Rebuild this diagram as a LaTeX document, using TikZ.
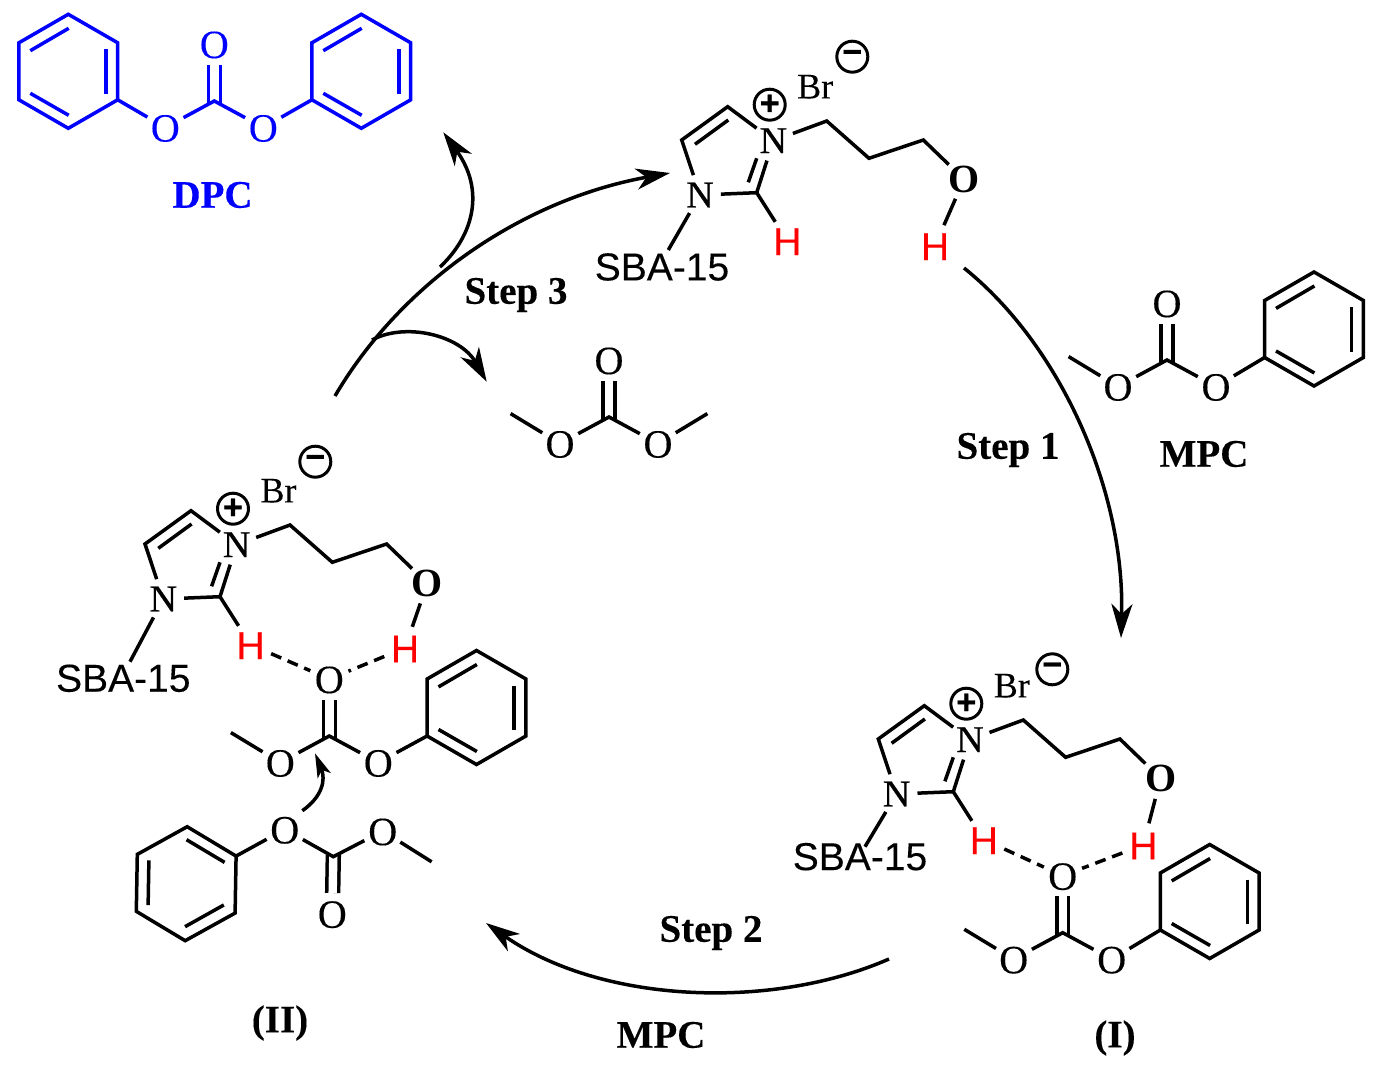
\documentclass[tikz,border=0pt]{standalone}
\usepackage{fontspec}
\setmainfont{Liberation Serif}
\setsansfont{Liberation Sans}
\usetikzlibrary{arrows.meta}

\tikzset{
  bond/.style={line width=1.75pt},
  atomO/.style={circle,inner sep=0pt,minimum size=19.5pt,text height=14.2pt,
    font=\fontsize{20}{20}\selectfont\addfontfeature{FakeBold=0.25}},
  atomOb/.style={atomO,text height=13.8pt,font=\fontsize{20}{20}\selectfont\bfseries},
  atomN/.style={circle,inner sep=0pt,minimum size=20.5pt,
    font=\fontsize{19}{19}\selectfont\addfontfeature{FakeBold=0.5}},
  atomH/.style={circle,inner sep=0pt,minimum size=22pt,text=red,text height=14.4pt,
    font=\fontsize{19.5}{19.5}\selectfont\sffamily\addfontfeature{FakeBold=0.25}},
  charge/.style={draw,circle,line width=1.5pt,inner sep=0pt,minimum size=15.5pt,
    font=\fontsize{17}{17}\selectfont\sffamily\bfseries\addfontfeature{FakeBold=0.8}},
  support/.style={inner sep=0pt,font=\fontsize{19.5}{19.5}\selectfont\sffamily\addfontfeature{FakeBold=0.2}},
  tag/.style={inner sep=0pt,font=\fontsize{19.5}{19.5}\selectfont\bfseries\addfontfeature{FakeBold=0.25}},
  hbond/.style={bond,dash pattern=on 5.5pt off 3.5pt},
  cycle/.style={line width=1.75pt,-{Stealth[length=17pt,width=10.5pt,inset=5pt]}},
  % benzene ring about its centre
  phenyl/.pic={
    \coordinate (-a) at (0,-57);
    \coordinate (-b) at (49.4,-28.5);
    \coordinate (-c) at (49.4,28.5);
    \coordinate (-d) at (0,57);
    \coordinate (-e) at (-49.4,28.5);
    \coordinate (-f) at (-49.4,-28.5);
    \draw[bond] (-a) -- (-b) -- (-c) -- (-d) -- (-e) -- (-f) -- cycle;
    \draw[bond] (-38,-20.6) -- (0.4,-43);
    \draw[bond] (37.7,-22) -- (37.7,22.7);
    \draw[bond] (-38,22) -- (0.4,44);
  },
  % O=C(O)O core, methyl ends are only coordinates
  carbonate/.pic={
    \coordinate (-c) at (0,0);
    \coordinate (-mel) at (-98.4,-3.4);
    \coordinate (-mer) at (98.4,-3.4);
    \node[atomO] (-oa) at (0,-57) {O};
    \node[atomO] (-ol) at (-49,26.5) {O};
    \node[atomO] (-or) at (49,26.5) {O};
    \draw[bond,double,double distance=4.2pt,shorten <=-1pt] (-c) -- (-oa);
    \draw[bond] (-ol) -- (-c) -- (-or);
  },
  % ring and hydroxypropyl chain, origin on C2
  imidazolium/.pic={
    \coordinate (-c2) at (0,0);
    \coordinate (-c4) at (-29,-86);
    \coordinate (-c5) at (-75,-52.7);
    \coordinate (-p1) at (70,-71.7);
    \coordinate (-p2) at (112.3,-34.4);
    \coordinate (-p3) at (166.6,-52.7);
    \node[atomN] (-n1) at (-56.7,2.3) {N};
    \node[atomN] (-n3) at (16.6,-52) {N};
    \node[atomOb] (-oh) at (207.3,-13.4) {O};
    \node[atomH] (-h2) at (30.6,48) {H};
    \node[charge] (-plus) at (13,-88) {+};
    \node[inner sep=0pt,font=\fontsize{18}{18}\selectfont\addfontfeature{FakeBold=0.2}] (-br) at (58.5,-106) {Br};
    \draw[bond] (-n1) -- (-c5) -- (-c4) -- (-n3);
    \draw[bond] (-61.7,-48.4) -- (-28.4,-72.7);
    \draw[bond] (-n3) -- (-c2) -- (-n1);
    \draw[bond] (-8.4,-10.4) -- (0,-34.4);
    \draw[bond] (-c2) -- (-h2);
    \draw[bond] (-n3) -- (-p1) -- (-p2) -- (-p3) -- (-oh);
  }
}

\begin{document}
\begin{tikzpicture}[x=0.5pt,y=-0.5pt]
  \useasboundingbox (0,0) rectangle (1386,1075);

  % DPC
  \pic[blue] (dpc) at (214.3,101) {carbonate};
  \pic[blue] (ringL) at (68.3,71.3) {phenyl};
  \pic[blue] (ringR) at (361.3,71.3) {phenyl};
  \draw[bond,blue] (dpc-ol) -- (ringL-c);
  \draw[bond,blue] (dpc-or) -- (ringR-e);
  \node[tag,text=blue] (dpcname) at (212.5,195) {DPC};

  % carbonates and their rings
  \pic (dmc) at (609,417) {carbonate};
  \pic (mpcT) at (1167,360) {carbonate};
  \pic (ringT) at (1314,329) {phenyl};
  \pic (mpcI) at (1062.7,932.7) {carbonate};
  \pic (ringI) at (1209.7,901.5) {phenyl};
  \pic (mpcII) at (329.3,736) {carbonate};
  \pic (ringII) at (476.5,707.5) {phenyl};
  \pic[rotate=179] (mpcB) at (333.3,856.7) {carbonate};
  \pic[rotate=179] (ringB) at (186.2,883.7) {phenyl};
  \foreach \m/\r in {mpcT/ringT,mpcI/ringI,mpcII/ringII,mpcB/ringB}{
    \draw[bond] (\m-or) -- (\r-e);
    \draw[bond] (\m-ol) -- (\m-mel);
  }
  \draw[bond] (dmc-ol) -- (dmc-mel);
  \draw[bond] (dmc-or) -- (dmc-mer);

  % supported imidazolium, three times
  \pic (imT) at (756.7,192.7) {imidazolium};
  \pic (imI) at (953.3,791.7) {imidazolium};
  \pic (imII) at (220,596.7) {imidazolium};
  \foreach \i/\hx/\hy/\sx/\sy/\ex/\ey/\mx/\my in {
    imT/935/245.7/662/267/668.3/250/852.3/56.7,
    imI/1143.3/845/860/856.7/865/846.7/1052.3/669.3,
    imII/405/648/123.3/678.3/130/661.7/315.3/461.7}{
    \node[atomH] (\i-ho) at (\hx,\hy) {H};
    \node[support] (\i-sba) at (\sx,\sy) {SBA-15};
    \coordinate (\i-se) at (\ex,\ey);
    \node[charge] (\i-minus) at (\mx,\my) {−};
    \draw[bond] (\i-oh) -- (\i-ho);
    \draw[bond] (\i-n1) -- (\i-se);
  }

  % hydrogen bonds
  \draw[hbond] (imI-h2) -- (mpcI-oa);
  \draw[hbond] (imI-ho) -- (mpcI-oa);
  \draw[hbond] (imII-h2) -- (mpcII-oa);
  \draw[hbond] (imII-ho) -- (mpcII-oa);

  % catalytic cycle
  \coordinate (s1a) at (964,268);
  \coordinate (s1b) at (1121,638);
  \coordinate (s2a) at (889,959);
  \coordinate (s2b) at (486,923);
  \coordinate (s3a) at (335,396);
  \coordinate (s3b) at (670,173);
  \coordinate (offa) at (440,267);
  \coordinate (offb) at (443.3,132.3);
  \coordinate (dmca) at (372,340);
  \coordinate (dmcb) at (486.7,381.7);
  \coordinate (atka) at (302.3,810.7);
  \coordinate (atkb) at (315,753.3);
  \draw[cycle] (s1a) .. controls (1060,345) and (1125,490) .. (s1b);
  \draw[cycle] (s2a) .. controls (770,1011) and (600,1003) .. (s2b);
  \draw[cycle] (s3a) .. controls (400,285) and (520,200) .. (s3b);
  \draw[cycle] (offa) .. controls (474,235) and (485,190) .. (offb);
  \draw[cycle] (dmca) .. controls (405,322) and (460,335) .. (dmcb);
  \draw[bond,-{Stealth[length=12pt,width=7pt,inset=3pt]}] (atka) .. controls (322,797) and (326,780) .. (atkb);

  \node[tag] (step1) at (1008,450) {Step 1};
  \node[tag] (step2) at (711,933) {Step 2};
  \node[tag] (step3) at (516,295) {Step 3};
  \node[tag] (mpcTname) at (1204,454) {MPC};
  \node[tag] (mpcBname) at (661,1035) {MPC};
  \node[tag] (nameI) at (1115,1038) {(I)};
  \node[tag] (nameII) at (280,1023) {(II)};
\end{tikzpicture}
\end{document}
